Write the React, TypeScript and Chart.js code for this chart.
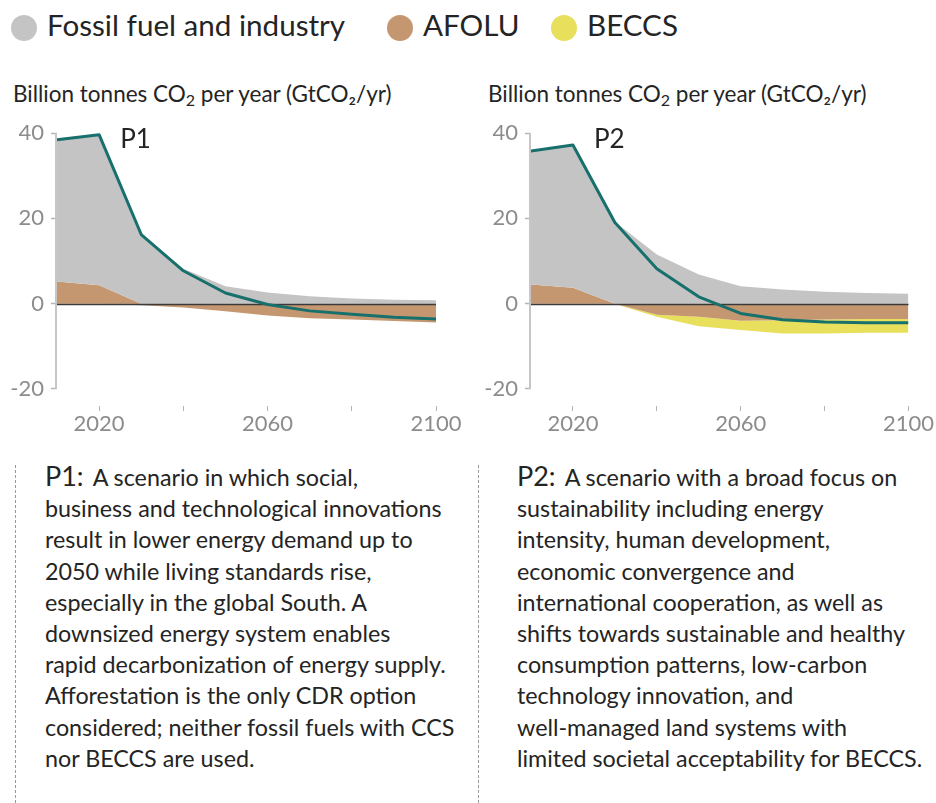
import React, { useEffect, useRef } from 'react';
import { Chart, registerables } from 'chart.js';

Chart.register(...registerables);

// ---------- data ----------
const YEARS = [2010, 2020, 2030, 2040, 2050, 2060, 2070, 2080, 2090, 2100];
const X_TICKS = [2020, 2040, 2060, 2080, 2100];
const X_LABELS = [2020, 2060, 2100];
const Y_TICKS = [-20, 0, 20, 40];

// P1 (GtCO2/yr)
const P1_FOSSIL = [33.2, 35.3, 16.2, 8.2, 4.1, 2.6, 1.7, 1.2, 0.9, 0.8];
const P1_AFOLU = [5.2, 4.3, -0.4, -0.9, -1.8, -2.8, -3.4, -3.75, -4.1, -4.4];
const P1_BECCS = [0, 0, 0, 0, 0, 0, 0, 0, 0, 0];
const P1_NET = [38.4, 39.6, 16.2, 7.7, 2.5, -0.2, -1.7, -2.5, -3.2, -3.6];

// P2 (GtCO2/yr)
const P2_FOSSIL = [31.3, 33.5, 19.2, 11.5, 6.8, 4.1, 3.3, 2.8, 2.5, 2.3];
const P2_AFOLU = [4.5, 3.7, 0, -2.6, -3.1, -4.0, -3.9, -3.7, -3.6, -3.6];
const P2_BECCS = [0, 0, -0.1, -0.5, -2.2, -2.2, -3.1, -3.3, -3.2, -3.2];
const P2_NET = [35.8, 37.2, 19.0, 8.2, 1.6, -2.3, -3.8, -4.3, -4.5, -4.5];

const LEGEND_ITEMS = ['Fossil fuel and industry', 'AFOLU', 'BECCS'];

const P1_TEXT = [
  'A scenario in which social,',
  'business and technological innovations',
  'result in lower energy demand up to',
  '2050 while living standards rise,',
  'especially in the global South. A',
  'downsized energy system enables',
  'rapid decarbonization of energy supply.',
  'Afforestation is the only CDR option',
  'considered; neither fossil fuels with CCS',
  'nor BECCS are used.',
];
const P2_TEXT = [
  'A scenario with a broad focus on',
  'sustainability including energy',
  'intensity, human development,',
  'economic convergence and',
  'international cooperation, as well as',
  'shifts towards sustainable and healthy',
  'consumption patterns, low-carbon',
  'technology innovation, and',
  'well-managed land systems with',
  'limited societal acceptability for BECCS.',
];

// ---------- styles ----------
const FONT = 'Lato, "Noto Sans", sans-serif';
const C_GRAY = '#c4c4c4';
const C_BROWN = '#c59770';
const C_YELLOW = '#e8df5c';
const C_TEAL = '#18706d';
const C_TICK = '#8c8c8c';
const C_TEXT = '#242424';

const zeroLinePlugin = {
  id: 'zeroLine',
  beforeDatasetDraw(chart: any, args: any) {
    if (args.index !== 0) return;
    const { ctx, chartArea, scales } = chart;
    const py = Math.round(scales.y.getPixelForValue(0)) + 0.5;
    ctx.save();
    ctx.strokeStyle = '#3a3a3a';
    ctx.lineWidth = 1.5;
    ctx.beginPath();
    ctx.moveTo(chartArea.left, py);
    ctx.lineTo(chartArea.right, py);
    ctx.stroke();
    ctx.restore();
  },
};

const axisLinePlugin = {
  id: 'axisLine',
  beforeDatasetsDraw(chart: any) {
    const { ctx, chartArea, scales } = chart;
    const y0 = scales.y.getPixelForValue(Y_TICKS[Y_TICKS.length - 1]);
    const y1 = scales.y.getPixelForValue(Y_TICKS[0]);
    ctx.save();
    ctx.strokeStyle = '#c6c6c6';
    ctx.lineWidth = 2;
    ctx.beginPath();
    ctx.moveTo(chartArea.left - 1, y0);
    ctx.lineTo(chartArea.left - 1, y1);
    ctx.stroke();
    ctx.restore();
  },
};

const tagPlugin = {
  id: 'tag',
  afterDatasetsDraw(chart: any, _args: any, opts: any) {
    const { ctx, scales } = chart;
    ctx.save();
    ctx.fillStyle = C_TEXT;
    ctx.font = `26px ${FONT}`;
    ctx.textAlign = 'left';
    ctx.textBaseline = 'alphabetic';
    ctx.fillText(opts.text, scales.x.getPixelForValue(opts.x), scales.y.getPixelForValue(opts.y));
    ctx.restore();
  },
};

type ChartProps = {
  fossil: number[];
  afolu: number[];
  beccs: number[];
  net: number[];
  tag: string;
  left: number;
  width: number;
};

function ScenarioChart({ fossil, afolu, beccs, net, tag, left, width }: ChartProps) {
  const ref = useRef<HTMLCanvasElement | null>(null);

  useEffect(() => {
    if (!ref.current) return;
    const pts = (vals: number[]) => YEARS.map((x, i) => ({ x, y: vals[i] }));
    const afoluPos = afolu.map((v) => Math.max(v, 0));
    const afoluNeg = afolu.map((v) => Math.min(v, 0));
    const fossilTop = fossil.map((v, i) => v + afoluPos[i]);
    const beccsBottom = beccs.map((v, i) => v + afoluNeg[i]);

    const area = (label: string, data: number[], color: string, fill: any) => ({
      label,
      data: pts(data),
      borderWidth: 0,
      borderColor: color,
      backgroundColor: color,
      pointRadius: 0,
      fill,
      tension: 0,
    });

    const chart = new Chart(ref.current, {
      type: 'line',
      data: {
        datasets: [
          {
            label: 'Net CO2',
            data: pts(net),
            borderColor: C_TEAL,
            borderWidth: 3,
            pointRadius: 0,
            fill: false,
            tension: 0,
            borderJoinStyle: 'round',
          } as any,
          area('Fossil fuel and industry', fossilTop, C_GRAY, 2),
          area('AFOLU', afoluPos, C_BROWN, 'origin'),
          area('AFOLU', afoluNeg, C_BROWN, 'origin'),
          area('BECCS', beccsBottom, C_YELLOW, 3),
        ],
      },
      options: {
        responsive: false,
        animation: false,
        layout: { padding: { left: 0, right: width - 436, top: 23, bottom: 0 } },
        plugins: {
          legend: { display: false },
          tooltip: { enabled: false },
          tag: { text: tag, x: 2025, y: 36.4 },
        } as any,
        scales: {
          x: {
            type: 'linear',
            min: YEARS[0],
            max: YEARS[YEARS.length - 1],
            afterBuildTicks: (s: any) => {
              s.ticks = X_TICKS.map((v) => ({ value: v }));
            },
            afterFit: (s: any) => {
              s.height = 34;
            },
            grid: {
              display: true,
              drawOnChartArea: false,
              drawTicks: true,
              tickLength: 5,
              tickColor: '#b4b4b4',
              tickWidth: 1,
            },
            border: { display: false },
            ticks: {
              autoSkip: false,
              maxRotation: 0,
              padding: 0,
              color: C_TICK,
              font: { family: FONT, size: 22 },
              callback: (v: any) => (X_LABELS.includes(Number(v)) ? String(v) : ''),
            },
          },
          y: {
            type: 'linear',
            min: -24,
            max: 40,
            afterBuildTicks: (s: any) => {
              s.ticks = Y_TICKS.map((v) => ({ value: v }));
            },
            afterFit: (s: any) => {
              s.width = 57;
            },
            grid: {
              display: true,
              drawOnChartArea: false,
              drawTicks: true,
              tickLength: 6,
              tickColor: '#b4b4b4',
              tickWidth: 1.5,
            },
            border: { display: false },
            ticks: {
              padding: 7,
              color: C_TICK,
              font: { family: FONT, size: 22 },
              callback: (v: any) => String(v),
            },
          },
        },
      } as any,
      plugins: [zeroLinePlugin, axisLinePlugin, tagPlugin],
    });
    return () => chart.destroy();
  }, [fossil, afolu, beccs, net, tag, width]);

  return (
    <canvas
      ref={ref}
      width={width}
      height={330}
      style={{ position: 'absolute', left, top: 110, width, height: 330 }}
    />
  );
}

function AxisTitle({ left }: { left: number }) {
  return (
    <div
      style={{
        position: 'absolute',
        left,
        top: 80,
        fontFamily: FONT,
        fontSize: 22.5,
        lineHeight: '27px',
        color: C_TEXT,
        whiteSpace: 'nowrap',
      }}
    >
      Billion tonnes CO<sub style={{ fontSize: 16, verticalAlign: '-4px', lineHeight: 0 }}>2</sub> per year (GtCO₂/yr)
    </div>
  );
}

function Description({ left, lineLeft, tag, lines }: { left: number; lineLeft: number; tag: string; lines: string[] }) {
  return (
    <>
      <div
        style={{
          position: 'absolute',
          left: lineLeft,
          top: 465,
          height: 338,
          borderLeft: '1px dashed #9a9a9a',
        }}
      />
      <div
        style={{
          position: 'absolute',
          left,
          top: 462,
          fontFamily: FONT,
          fontSize: 23.3,
          lineHeight: '31.2px',
          color: C_TEXT,
          whiteSpace: 'nowrap',
        }}
      >
        {lines.map((l, i) => (
          <div key={i}>
            {i === 0 && (
              <span style={{ fontSize: 27, lineHeight: '10px', marginRight: 9 }}>{tag}</span>
            )}
            {l}
          </div>
        ))}
      </div>
    </>
  );
}

export default function App() {
  const legendColors = [C_GRAY, C_BROWN, C_YELLOW];
  const legendX = [24, 400, 564];
  return (
    <div
      style={{
        position: 'absolute',
        left: 0,
        top: 0,
        width: 936,
        height: 803,
        overflow: 'hidden',
        background: '#ffffff',
      }}
    >
      {LEGEND_ITEMS.map((name, i) => (
        <React.Fragment key={name}>
          <div
            style={{
              position: 'absolute',
              left: legendX[i] - 13,
              top: 15,
              width: 26,
              height: 26,
              borderRadius: '50%',
              background: legendColors[i],
            }}
          />
          <div
            style={{
              position: 'absolute',
              left: legendX[i] + 23,
              top: 7,
              fontFamily: FONT,
              fontSize: 29.6,
              lineHeight: '35px',
              color: C_TEXT,
              whiteSpace: 'nowrap',
            }}
          >
            {name}
          </div>
        </React.Fragment>
      ))}

      <AxisTitle left={13} />
      <AxisTitle left={488} />

      <ScenarioChart fossil={P1_FOSSIL} afolu={P1_AFOLU} beccs={P1_BECCS} net={P1_NET} tag="P1" left={0} width={468} />
      <ScenarioChart fossil={P2_FOSSIL} afolu={P2_AFOLU} beccs={P2_BECCS} net={P2_NET} tag="P2" left={474} width={460} />

      <Description left={45} lineLeft={15} tag="P1:" lines={P1_TEXT} />
      <Description left={517} lineLeft={478} tag="P2:" lines={P2_TEXT} />
    </div>
  );
}
